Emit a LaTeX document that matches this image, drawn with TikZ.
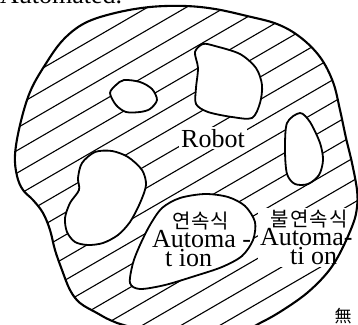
\documentclass[tikz,border=0pt]{standalone}
\usepackage{fontspec}
\setmainfont{Liberation Serif}
\newfontfamily\krfont{Noto Sans CJK KR}
\newcommand\kortext[1]{{\krfont\fontsize{20}{19}\selectfont #1}}
\newcommand\outerpath{plot[smooth cycle, tension=0.6] coordinates{(15,155) (20,125) (30,92) (45,65) (63,40) (85,23) (115,13) (150,7) (185,6) (215,9) (247,16) (277,24) (300,37) (320,57) (333,82) (340,110) (346,138) (352,163) (357,190) (357,207) (353,224) (340,253) (327,273) (307,293) (283,310) (262,322) (235,334) (180,340) (127,326) (110,320) (97,313) (80,303) (70,290) (62,270) (55,250) (50,230) (43,213) (33,200) (23,190) (17,176)}}
\newcommand\smallhole{plot[smooth cycle] coordinates{(110,93) (116,85) (124,80) (140,82) (152,89) (157,100) (150,109) (140,112) (126,112) (116,105)}}
\newcommand\bighole{plot[smooth cycle] coordinates{(195,52) (203,44) (215,46) (240,54) (256,68) (262,85) (260,103) (252,118) (232,117) (208,112) (196,104) (196,88) (198,68)}}
\newcommand\righthole{plot[smooth cycle] coordinates{(287,123) (300,113) (310,122) (320,143) (323,160) (319,175) (308,184) (295,184) (287,174) (285,150)}}
\newcommand\lefthole{plot[smooth cycle] coordinates{(78,178) (82,163) (95,152) (112,151) (128,157) (142,170) (146,185) (140,203) (130,222) (118,235) (103,243) (88,245) (75,242) (67,232) (65,218) (70,203) (79,190)}}
\newcommand\autohole{plot[smooth cycle] coordinates{(130,283) (133,263) (140,245) (150,225) (162,208) (180,198) (205,194) (228,197) (245,206) (255,222) (253,240) (242,256) (222,267) (195,276) (165,285) (140,289)}}
\begin{document}
\begin{tikzpicture}[x=1pt,y=-1pt,
  hatch/.style={line width=1.1pt},
  outline/.style={line width=2.1pt, line join=round},
  holeline/.style={line width=1.8pt, fill=white, line join=round},
  lat/.style={font=\fontsize{26}{19}\selectfont, inner sep=0pt},
  wbox/.style={fill=white, inner sep=2pt}]
\useasboundingbox (0,0) rectangle (358,324);
\clip (0,0) rectangle (358,324);
\node[lat, anchor=base west] (top) at (0,3) {Automated.};
\begin{scope}
  \clip \outerpath;
  \foreach \k in {-6,...,20} {
    \draw[hatch] (-20,{115.4+22.5*\k+11.6}) -- ++(420,-243.6);
  }
\end{scope}
\draw[holeline] \smallhole;
\draw[holeline] \bighole;
\draw[holeline] \righthole;
\draw[holeline] \lefthole;
\draw[holeline] \autohole;
\node[lat, wbox, anchor=base] (robot) at (213,147) {Robot};
\node[lat, wbox, align=left, anchor=south west] (g2) at (258,267)
  {\hspace*{10pt}\kortext{불\hspace{1.5pt}연\hspace{1.5pt}속\hspace{1.5pt}식}\\Automa-\\\hspace*{30pt}ti on};
\node[lat, align=left, anchor=south west] (g1) at (152,267)
  {\hspace*{20pt}\kortext{연\hspace{0.5pt}속\hspace{0.5pt}식}\\Automa -\\\hspace*{13pt}t ion};
\draw[outline] \outerpath;
\node[font=\krfont\fontsize{17}{17}\selectfont, inner sep=0pt] (wu) at (343,316) {無};
\end{tikzpicture}
\end{document}
